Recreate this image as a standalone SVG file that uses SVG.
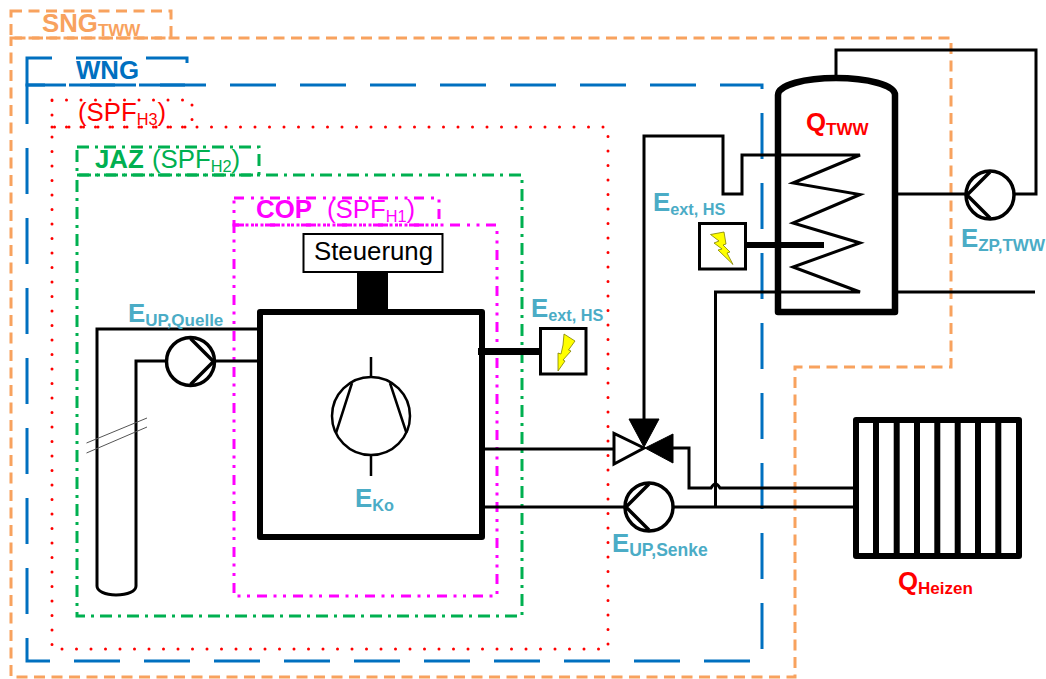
<svg xmlns="http://www.w3.org/2000/svg" width="1046" height="679" viewBox="0 0 1046 679">
<style>
text{font-family:"Liberation Sans",Arial,sans-serif;font-size:25.800px}
.b{font-weight:700}
.s{font-size:17px}
.t{font-size:16.300px}
.cy{fill:#4bacc6;font-weight:700}
.rd{fill:#ff0000}
.fr{fill:none;stroke-width:3}
.or{stroke:#f8a25e;stroke-dasharray:11 6.5}
.bl{stroke:#0070c0;stroke-dasharray:46 24}
.dt{stroke:#ff0000;stroke-dasharray:0 14.5;stroke-linecap:round}
.gr{stroke:#00b050;stroke-dasharray:12 6 3 6}
.mg{stroke:#ff00ff;stroke-dasharray:10 7 3 6.500 3 6.500}
.p{fill:none;stroke:#000;stroke-width:3}
.w{fill:#fff;stroke:#000;stroke-width:3}
.k{fill:#000;stroke:#000;stroke-width:1}
.z{fill:#ffff00;stroke:#7f7f00;stroke-width:.8}
</style>
<defs>
<g id="pump"><circle r="24" fill="#fff" stroke="#000" stroke-width="3.500"/><path d="M0 -23 L23 0 L0 23" fill="none" stroke="#000" stroke-width="3.500"/></g>
</defs>
<g id="frames">
<path class="fr or" d="M11 11H171V38H11Z"/>
<path class="fr or" d="M11 38H951V367H795V677H11Z"/>
<path class="fr bl" stroke-dashoffset="21" d="M27 58H187V85H27Z"/>
<path class="fr bl" stroke-dashoffset="7" d="M27 85H762V661H27Z"/>
<path class="fr dt" d="M52 100H192V127H52Z"/>
<path class="fr dt" d="M52 127H608V649H52Z"/>
<path class="fr gr" d="M77 147H259V175H77Z"/>
<path class="fr gr" d="M77 175H522V616H77Z"/>
<path class="fr mg" d="M234 198H439V225H234Z"/>
<path class="fr mg" d="M234 225H497V596H234Z"/>
</g>
<g id="connectors">
<path class="p" d="M258 329H97V586C97 591 105 595 116 595C128 595 136 591 136 586V361H166"/>
<path class="p" d="M216 361H258"/>
<path d="M86.500 443L147 418M86.500 453L147 427" fill="none" stroke="#555" stroke-width="1"/>
<rect x="357" y="272" width="31" height="38" fill="#000"/>
<path d="M478 351.500H540" fill="none" stroke="#000" stroke-width="7"/>
<path class="p" d="M485 449H614"/>
<path class="p" d="M485 507H853"/>
<path class="p" d="M644 419V136H723V194H742V155H860L793 183L860 194.500L793 223L860 243L793 267L860 292H715.500V507"/>
<path class="p" d="M673 448H689V488H711Q715.500 480 720 488H853"/>
<path class="p" d="M836 77V50H1036V194H1014"/>
<path class="p" d="M897 194H966"/>
<path class="p" d="M897 292H1035"/>
<path d="M745 245H824" fill="none" stroke="#000" stroke-width="6"/>
</g>
<g id="tank">
<path d="M778 312V95C778 85 805 78 836 78C867 78 895 85 895 95V312Z" fill="none" stroke="#000" stroke-width="6.500" stroke-linejoin="round"/>
</g>
<g id="radiator">
<rect x="856" y="420" width="163" height="136" fill="#fff" stroke="#000" stroke-width="6" stroke-linejoin="round"/>
<path d="M876 420V556M896.700 420V556M917 420V556M937.300 420V556M957.700 420V556M978 420V556M998.300 420V556" fill="none" stroke="#000" stroke-width="6"/>
</g>
<g id="heatpump">
<rect x="260" y="312" width="222" height="225" fill="none" stroke="#000" stroke-width="6" stroke-linejoin="round"/>
<circle cx="371" cy="416" r="39" fill="none" stroke="#000" stroke-width="2.500"/>
<path d="M371 357V377M371 455V476M352 383L336 433M390 383L406.500 433" fill="none" stroke="#000" stroke-width="2.500"/>
</g>
<g id="steuerung">
<rect x="303.500" y="234" width="139" height="38" fill="#fff" stroke="#000" stroke-width="2"/>
<text x="314" y="260">Steuerung</text>
</g>
<g id="pump-quelle"><use href="#pump" x="190.500" y="361.500"/></g>
<g id="pump-senke"><use href="#pump" transform="translate(649 507) rotate(180)"/></g>
<g id="pump-zp"><use href="#pump" transform="translate(990 195) rotate(180)"/></g>
<g id="valve">
<path d="M614 433.500V464L644 448Z" class="w"/>
<path d="M673 434V463L645 448Z" class="k"/>
<path d="M629 419H659L644 447Z" class="k"/>
</g>
<g id="heater-1">
<rect x="540.500" y="328.500" width="45.500" height="45.500" fill="#fff" stroke="#000" stroke-width="3"/>
<path class="z" d="M564 334L575 341L568.500 350L571 351L563 360L565 361L558 371L558 353L561 354L563 345Z"/>
</g>
<g id="heater-2">
<rect x="699.500" y="223.500" width="46" height="45.500" fill="#fff" stroke="#000" stroke-width="3"/>
<path class="z" d="M710.500 234.500L724 232L726 244L723 245L730 252L727 253L733 264.500L718 250L722 249L714 243L719 241Z"/>
</g>
<g id="labels">
<text x="42" y="32" class="b" fill="#f8a25e">SNG<tspan class="s" dy="4">TWW</tspan></text>
<text x="76" y="79" class="b" fill="#0070c0">WNG</text>
<text x="78" y="120.500" class="rd">(SPF<tspan class="t" dy="4">H3</tspan><tspan dy="-4">)</tspan></text>
<text x="95" y="168" class="b" fill="#00b050">JAZ</text>
<text x="152" y="168" fill="#00b050">(SPF<tspan class="t" dy="4">H2</tspan><tspan dy="-4">)</tspan></text>
<text x="256" y="218" class="b" fill="#ff00ff">COP</text>
<text x="327" y="218" fill="#ff00ff">(SPF<tspan class="t" dy="4">H1</tspan><tspan dy="-4">)</tspan></text>
<text x="128" y="322" class="cy">E<tspan class="s" dy="4">UP,Quelle</tspan></text>
<text x="531" y="317" class="cy">E<tspan class="t" dy="4">ext, HS</tspan></text>
<text x="653" y="211" class="cy">E<tspan class="t" dy="4">ext, HS</tspan></text>
<text x="961" y="247" class="cy">E<tspan class="s" dy="4">ZP,TWW</tspan></text>
<text x="355" y="507" class="cy">E<tspan class="t" dy="4">Ko</tspan></text>
<text x="612" y="552" class="cy">E<tspan class="s" dy="4" style="font-size:17.500px">UP,Senke</tspan></text>
<text x="806" y="131" class="b rd">Q<tspan class="s" dy="4">TWW</tspan></text>
<text x="898" y="590" class="b rd">Q<tspan class="s" dy="4">Heizen</tspan></text>
</g>
</svg>
